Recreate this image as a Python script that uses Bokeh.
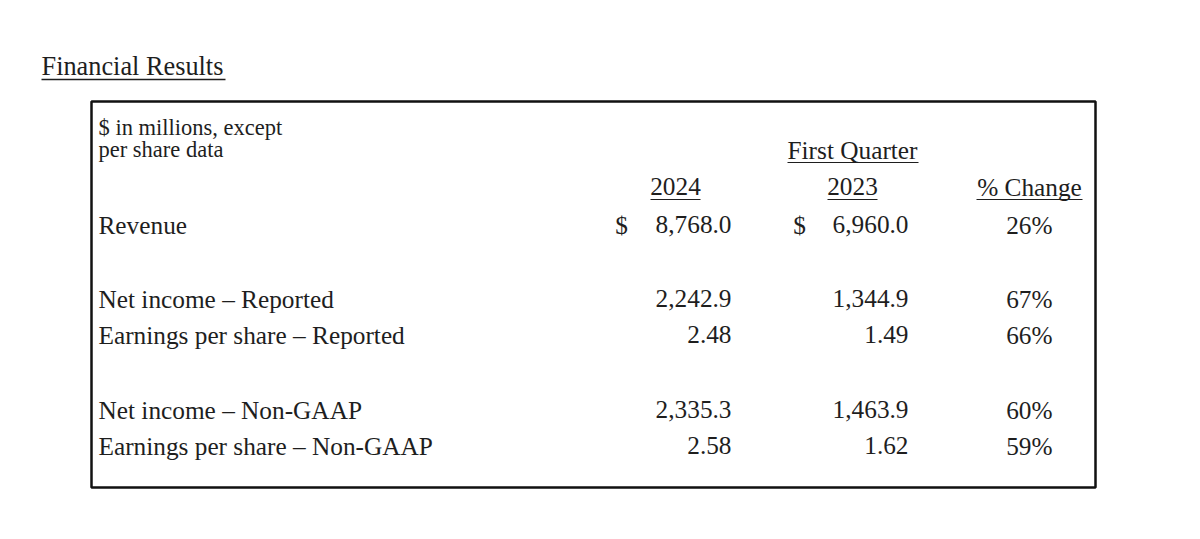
from bokeh.plotting import figure
from bokeh.models import Range1d
from bokeh.core.properties import value
from bokeh.embed import file_html
from bokeh.resources import INLINE

# ---- data ----
title = "Financial Results"
note_lines = ["$ in millions, except", "per share data"]
period_header = "First Quarter"
col_headers = ["2024", "2023", "% Change"]
row_labels = [
    "Revenue",
    "Net income \u2013 Reported",
    "Earnings per share \u2013 Reported",
    "Net income \u2013 Non-GAAP",
    "Earnings per share \u2013 Non-GAAP",
]
q1_2024 = [8768.0, 2242.9, 2.48, 2335.3, 2.58]
q1_2023 = [6960.0, 1344.9, 1.49, 1463.9, 1.62]
pct_change = [26, 67, 66, 60, 59]
is_per_share = [False, False, True, False, True]
show_dollar = [True, False, False, False, False]

# ---- layout ----
W, H = 1184, 523
FONT = value("Liberation Serif")
INK = "#1e1e1e"
TXT_DY = -9  # text baseline correction

p = figure(width=W, height=H, output_backend="svg", toolbar_location=None,
           x_range=Range1d(0, W), y_range=Range1d(H, 0),
           x_axis_type=None, y_axis_type=None,
           min_border=0, min_border_left=0, min_border_right=0,
           min_border_top=0, min_border_bottom=0)
p.outline_line_color = None
p.grid.visible = False
p.background_fill_color = "white"
p.border_fill_color = "white"

def txt(x, y, s, size, align="left"):
    p.text(x=[x], y=[y + TXT_DY], text=[s], text_font=FONT, text_font_size=f"{size}px",
           text_color=INK, text_align=align, text_baseline="alphabetic")

# title + underline
txt(41, 75, title, 26.3)
p.segment(x0=[41], y0=[79], x1=[225], y1=[79], line_color=INK, line_width=1.3)

# box
p.quad(left=[91], right=[1095], top=[101], bottom=[487], fill_color=None,
       line_color="#111111", line_width=2.5)

# note
txt(98, 136, note_lines[0], 22.5)
txt(98, 158, note_lines[1], 22.5)

# headers
c2024, c2023, cpct = 675, 852, 1029
txt(852, 158, period_header, 25.3, "center")
p.segment(x0=[787], y0=[162], x1=[918], y1=[162], line_color=INK, line_width=1.2)
for cx, s, hw in zip([c2024, c2023, cpct], col_headers, [25, 25, 53]):
    txt(cx, 195, s, 25.3, "center")
    p.segment(x0=[cx - hw], y0=[199], x1=[cx + hw], y1=[199], line_color=INK, line_width=1.2)

# rows
row_y = [233, 307, 343, 418, 454]
r2024, r2023, rpct = 731, 908, 1052
d2024, d2023 = 621, 799
for i, lab in enumerate(row_labels):
    y = row_y[i]
    fmt = "{:,.2f}" if is_per_share[i] else "{:,.1f}"
    txt(98, y, lab, 25.3)
    txt(r2024, y, fmt.format(q1_2024[i]), 25.3, "right")
    txt(r2023, y, fmt.format(q1_2023[i]), 25.3, "right")
    txt(rpct, y, f"{pct_change[i]}%", 25.3, "right")
    if show_dollar[i]:
        txt(d2024, y, "$", 25.3, "center")
        txt(d2023, y, "$", 25.3, "center")

open("out.html", "w").write(file_html(p, INLINE))
